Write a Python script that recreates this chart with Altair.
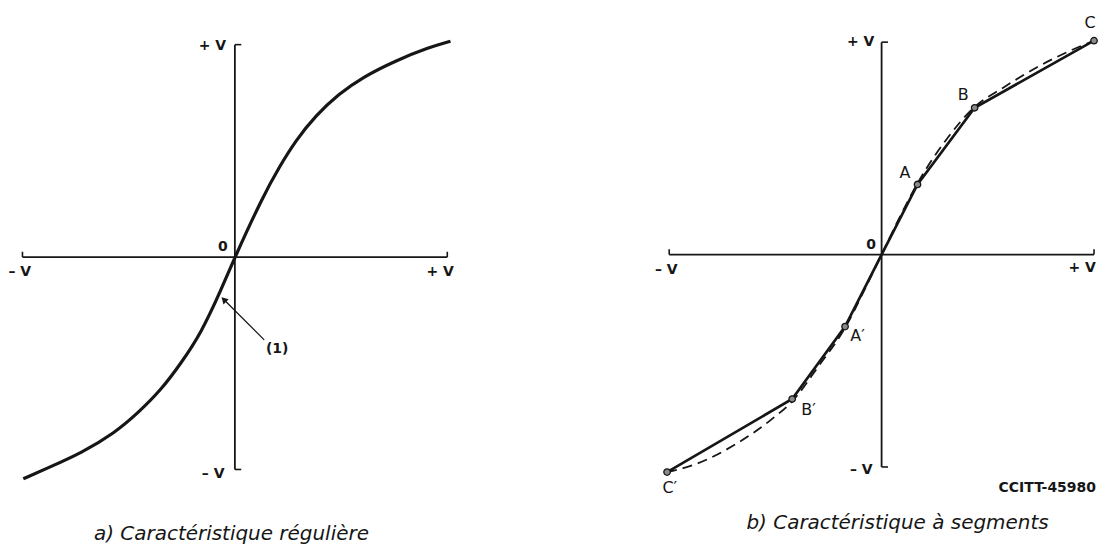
import altair as alt
import pandas as pd

# ---------------- data (units of V) ----------------
# a) smooth characteristic
a_curve_x = [-0.996, -0.879, -0.722, -0.566, -0.456, -0.346, -0.253, -0.159, -0.065, 0.0,
             0.131, 0.209, 0.287, 0.381, 0.491, 0.600, 0.757, 0.913, 1.015]
a_curve_y = [-1.044, -0.992, -0.922, -0.828, -0.734, -0.624, -0.499, -0.358, -0.155, 0.0,
             0.283, 0.424, 0.549, 0.667, 0.769, 0.846, 0.925, 0.987, 1.016]

# b) segmented characteristic: break points
b_pt_names = ["C\u2032", "B\u2032", "A\u2032", "O", "A", "B", "C"]
b_pt_x = [-1.01, -0.421, -0.172, 0.0, 0.169, 0.438, 1.0]
b_pt_y = [-1.024, -0.680, -0.339, 0.0, 0.330, 0.691, 1.007]

# b) dashed reference curve
b_dash_x = [-1.01, -0.879, -0.676, -0.520, -0.42, -0.30, -0.172, -0.08, 0.0, 0.08, 0.169, 0.30, 0.438, 0.576, 0.732, 0.889, 1.0]
b_dash_y = [-1.024, -0.988, -0.886, -0.777, -0.69, -0.53, -0.345, -0.165, 0.0, 0.165, 0.335, 0.535, 0.695, 0.788, 0.882, 0.960, 1.007]

# texts
axis_lbl_text = ["+ V", "\u2013 V", "0"]
b_pt_lbl_text = ["A", "B", "C", "A\u2032", "B\u2032", "C\u2032"]
caption_a = "a) Caractéristique régulière"
caption_b = "b) Caractéristique à segments"
note_a = "(1)"
ref_code = "CCITT-45980"

# ---------------- layout ----------------
PX = 213.0
A_CX, A_CY = 235.5, 257.0
B_CX, B_CY = 884.0, 254.5
W_A, W_B, GAP, H = 470, 612, 10, 538
LEFT_A = 8
LEFT_B = 8 + W_A + GAP
INK = "#161616"
FONT = "DejaVu Sans"


def xdom(left, w, cx):
    return [(left - cx) / PX, (left + w - cx) / PX]


def ydom(cy):
    return [(cy - (8 + H)) / PX, (cy - 8) / PX]


def enc(xd, yd, x="x", y="y"):
    return dict(
        x=alt.X(f"{x}:Q", scale=alt.Scale(domain=xd, nice=False, zero=False), axis=None),
        y=alt.Y(f"{y}:Q", scale=alt.Scale(domain=yd, nice=False, zero=False), axis=None),
    )


def axes_layers(xd, yd):
    axes_df = pd.DataFrame({"x": [-1, 0], "x2": [1, 0], "y": [0, -1], "y2": [0, 1]})
    ticks_df = pd.DataFrame({
        "x": [-1, 1, 0, 0], "x2": [-1, 1, 0.03, 0.03],
        "y": [0, 0, 1, -1], "y2": [0.025, 0.025, 1, -1],
    })
    e = enc(xd, yd)
    ax = alt.Chart(axes_df).mark_rule(color=INK, strokeWidth=1.8).encode(
        x=e["x"], y=e["y"], x2="x2:Q", y2="y2:Q")
    tk = alt.Chart(ticks_df).mark_rule(color=INK, strokeWidth=1.6).encode(
        x=e["x"], y=e["y"], x2="x2:Q", y2="y2:Q")
    return [ax, tk]


def text_layer(df, xd, yd, align, size=14, weight="bold", style="normal", baseline="middle"):
    e = enc(xd, yd)
    return alt.Chart(df).mark_text(
        align=align, baseline=baseline, fontSize=size, font=FONT,
        fontWeight=weight, fontStyle=style, color=INK,
    ).encode(x=e["x"], y=e["y"], text="t:N")


# ---------------- panel a ----------------
xa = xdom(LEFT_A, W_A, A_CX)
ya = ydom(A_CY)
ea = enc(xa, ya)

curve_a = alt.Chart(pd.DataFrame({"x": a_curve_x, "y": a_curve_y})).mark_line(
    color=INK, strokeWidth=3.2, interpolate="basis").encode(**ea)

arrow_df = pd.DataFrame({"x": [0.138], "x2": [-0.052], "y": [-0.390], "y2": [-0.200]})
arrow_line = alt.Chart(arrow_df).mark_rule(color=INK, strokeWidth=1.3).encode(
    x=ea["x"], y=ea["y"], x2="x2:Q", y2="y2:Q")
arrow_head = alt.Chart(pd.DataFrame({"x": [-0.052], "y": [-0.200]})).mark_point(
    shape="triangle-up", filled=True, size=55, angle=315, color=INK, opacity=1).encode(**ea)

lbl_a_right = pd.DataFrame({
    "x": [-0.041, -0.049, -0.034, 1.031],
    "y": [0.995, -1.020, 0.048, -0.069],
    "t": [axis_lbl_text[0], axis_lbl_text[1], axis_lbl_text[2], axis_lbl_text[0]],
})
lbl_a_left = pd.DataFrame({"x": [-1.066], "y": [-0.069], "t": [axis_lbl_text[1]]})
lbl_a_note = pd.DataFrame({"x": [0.146], "y": [-0.433], "t": [note_a]})
cap_a = pd.DataFrame({"x": [-0.016], "y": [-1.333], "t": [caption_a]})

panel_a = alt.layer(
    *axes_layers(xa, ya),
    curve_a, arrow_line, arrow_head,
    text_layer(lbl_a_right, xa, ya, "right"),
    text_layer(lbl_a_left, xa, ya, "left"),
    text_layer(lbl_a_note, xa, ya, "left"),
    text_layer(cap_a, xa, ya, "center", size=20, weight="normal", style="italic", baseline="alphabetic"),
).properties(width=W_A, height=H)

# ---------------- panel b ----------------
xb = xdom(LEFT_B, W_B, B_CX)
yb = ydom(B_CY)
eb = enc(xb, yb)

dash_b = alt.Chart(pd.DataFrame({"x": b_dash_x, "y": b_dash_y})).mark_line(
    color=INK, strokeWidth=1.8, strokeDash=[10, 6], interpolate="monotone").encode(**eb)
seg_b = alt.Chart(pd.DataFrame({"x": b_pt_x, "y": b_pt_y})).mark_line(
    color=INK, strokeWidth=2.7).encode(**eb)
pts_df = pd.DataFrame({"x": b_pt_x, "y": b_pt_y, "n": b_pt_names})
pts_df = pts_df[pts_df["n"] != "O"]
pts_b = alt.Chart(pts_df).mark_point(
    filled=True, size=42, fill="#8a8a8a", stroke=INK, strokeWidth=1.3, opacity=1).encode(**eb)

lbl_b_right = pd.DataFrame({
    "x": [-0.034, -0.042, -0.027, 1.009],
    "y": [0.999, -1.016, 0.045, -0.063],
    "t": [axis_lbl_text[0], axis_lbl_text[1], axis_lbl_text[2], axis_lbl_text[0]],
})
lbl_b_left = pd.DataFrame({"x": [-1.067], "y": [-0.073], "t": [axis_lbl_text[1]]})
lbl_b_pts = pd.DataFrame({
    "x": [0.110, 0.384, 0.981, -0.113, -0.344, -0.997],
    "y": [0.386, 0.753, 1.092, -0.382, -0.734, -1.101],
    "t": b_pt_lbl_text,
})
lbl_b_code = pd.DataFrame({"x": [1.009], "y": [-1.099], "t": [ref_code]})
cap_b = pd.DataFrame({"x": [0.075], "y": [-1.293], "t": [caption_b]})

panel_b = alt.layer(
    *axes_layers(xb, yb),
    dash_b, seg_b, pts_b,
    text_layer(lbl_b_right, xb, yb, "right"),
    text_layer(lbl_b_left, xb, yb, "left"),
    text_layer(lbl_b_pts, xb, yb, "center", size=16, weight="normal"),
    text_layer(lbl_b_code, xb, yb, "right"),
    text_layer(cap_b, xb, yb, "center", size=20, weight="normal", style="italic", baseline="alphabetic"),
).properties(width=W_B, height=H)

chart = alt.hconcat(panel_a, panel_b, spacing=GAP).properties(
    padding=0, background="white"
).configure_view(stroke=None)

chart.save("out.html", embed_options={"renderer": "svg", "actions": False})
